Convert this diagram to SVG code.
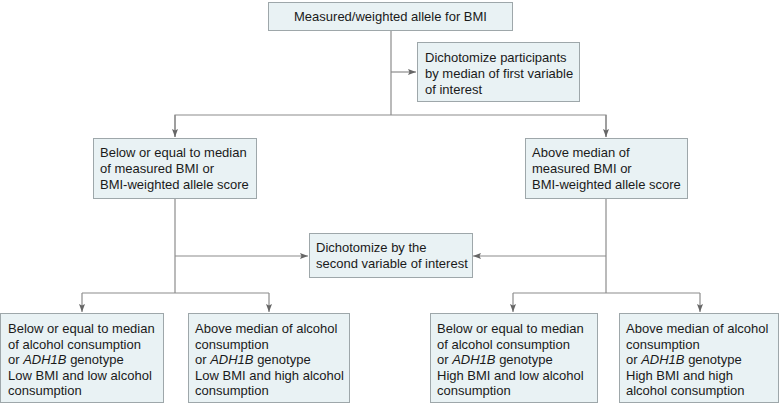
<svg xmlns="http://www.w3.org/2000/svg" width="783" height="405" viewBox="0 0 783 405">
<defs>
<marker id="arr" markerUnits="userSpaceOnUse" markerWidth="8" markerHeight="8" viewBox="0 0 8 8" refX="8" refY="4" orient="auto">
<path d="M0,1 L8,4 L0,7 L1.5,4 Z" fill="#666"/>
</marker>
</defs>
<style>
rect.box{fill:#e9f2f4;stroke:#9ea7aa;stroke-width:1}
text{font-family:"Liberation Sans",Arial,sans-serif;font-size:13px;fill:#1a1a1a}
.ln{fill:none;stroke:#8c8c8c;stroke-width:1.2}
</style>
<g id="connectors">
<path class="ln" d="M391,30 V115"/>
<path class="ln" d="M391,72 H416" marker-end="url(#arr)"/>
<path class="ln" d="M175,137 V115 H606 V137" />
<path class="ln" d="M175,115 V137" marker-end="url(#arr)"/>
<path class="ln" d="M606,115 V137" marker-end="url(#arr)"/>
<path class="ln" d="M175,198 V293"/>
<path class="ln" d="M175,256 H308" marker-end="url(#arr)"/>
<path class="ln" d="M606,198 V293"/>
<path class="ln" d="M606,256 H473" marker-end="url(#arr)"/>
<path class="ln" d="M82,293 H269"/>
<path class="ln" d="M82,293 V312" marker-end="url(#arr)"/>
<path class="ln" d="M269,293 V312" marker-end="url(#arr)"/>
<path class="ln" d="M513,293 H700"/>
<path class="ln" d="M513,293 V312" marker-end="url(#arr)"/>
<path class="ln" d="M700,293 V312" marker-end="url(#arr)"/>
</g>
<g id="n-top">
<rect class="box" x="268.5" y="2.5" width="244" height="28"/>
<text x="390.5" y="21" text-anchor="middle">Measured/weighted allele for BMI</text>
</g>
<g id="n-dich1">
<rect class="box" x="417.5" y="42.5" width="162" height="59"/>
<text x="425" y="62">Dichotomize participants</text>
<text x="425" y="78">by median of first variable</text>
<text x="425" y="94">of interest</text>
</g>
<g id="n-lowbmi">
<rect class="box" x="93.5" y="138.5" width="163" height="60"/>
<text x="100" y="157">Below or equal to median</text>
<text x="100" y="173">of measured BMI or</text>
<text x="100" y="189">BMI-weighted allele score</text>
</g>
<g id="n-highbmi">
<rect class="box" x="525.5" y="138.5" width="162" height="60"/>
<text x="532" y="157">Above median of</text>
<text x="532" y="173">measured BMI or</text>
<text x="532" y="189">BMI-weighted allele score</text>
</g>
<g id="n-dich2">
<rect class="box" x="309.5" y="233.5" width="163" height="44"/>
<text x="316" y="252">Dichotomize by the</text>
<text x="316" y="268">second variable of interest</text>
</g>
<g id="n-ll">
<rect class="box" x="0.5" y="313.5" width="163" height="89"/>
<text x="8" y="333">Below or equal to median</text>
<text x="8" y="348.6">of alcohol consumption</text>
<text x="8" y="364.2">or <tspan font-style="italic">ADH1B</tspan> genotype</text>
<text x="8" y="379.8">Low BMI and low alcohol</text>
<text x="8" y="395.4">consumption</text>
</g>
<g id="n-lh">
<rect class="box" x="188.5" y="313.5" width="161" height="89"/>
<text x="195" y="333">Above median of alcohol</text>
<text x="195" y="348.6">consumption</text>
<text x="195" y="364.2">or <tspan font-style="italic">ADH1B</tspan> genotype</text>
<text x="195" y="379.8">Low BMI and high alcohol</text>
<text x="195" y="395.4">consumption</text>
</g>
<g id="n-hl">
<rect class="box" x="430.5" y="313.5" width="167" height="89"/>
<text x="437" y="333">Below or equal to median</text>
<text x="437" y="348.6">of alcohol consumption</text>
<text x="437" y="364.2">or <tspan font-style="italic">ADH1B</tspan> genotype</text>
<text x="437" y="379.8">High BMI and low alcohol</text>
<text x="437" y="395.4">consumption</text>
</g>
<g id="n-hh">
<rect class="box" x="619.5" y="313.5" width="159" height="89"/>
<text x="626" y="333">Above median of alcohol</text>
<text x="626" y="348.6">consumption</text>
<text x="626" y="364.2">or <tspan font-style="italic">ADH1B</tspan> genotype</text>
<text x="626" y="379.8">High BMI and high</text>
<text x="626" y="395.4">alcohol consumption</text>
</g>
</svg>
